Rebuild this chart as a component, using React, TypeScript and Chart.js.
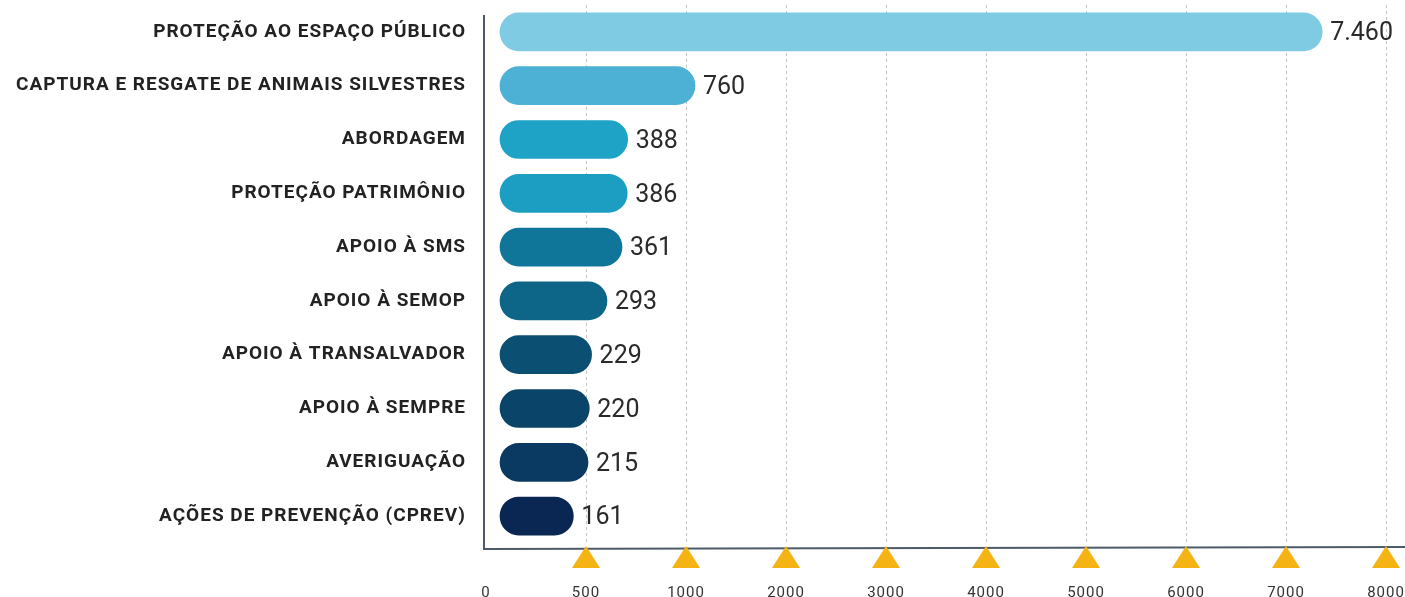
import React, { useEffect, useRef } from 'react';
import { Chart, registerables, LinearScale } from 'chart.js';

const CATEGORIES = [
  'PROTEÇÃO AO ESPAÇO PÚBLICO',
  'CAPTURA E RESGATE DE ANIMAIS SILVESTRES',
  'ABORDAGEM',
  'PROTEÇÃO PATRIMÔNIO',
  'APOIO À SMS',
  'APOIO À SEMOP',
  'APOIO À TRANSALVADOR',
  'APOIO À SEMPRE',
  'AVERIGUAÇÃO',
  'AÇÕES DE PREVENÇÃO (CPREV)',
];
const VALUES = [7460, 760, 388, 386, 361, 293, 229, 220, 215, 161];
const BAR_COLORS = [
  '#80cbe4', '#4cb1d4', '#1ea3c6', '#1c9ec2', '#0f7699',
  '#0d6688', '#0b5073', '#0a4468', '#0a3a62', '#0a2753',
];
const TICK_LABELS = ['0', '500', '1000', '2000', '3000', '4000', '5000', '6000', '7000', '8000'];

class PowerScale extends LinearScale {
  static id = 'power';
  static defaults = { ...(LinearScale as any).defaults };
  getPixelForValue(value: number) {
    const o: any = this.options;
    const pad = o.startPad ?? 0;
    const exp = o.exponent ?? 1;
    const range = (this.max - this.min) || 1;
    const frac = Math.pow(Math.max(0, value - this.min) / range, exp);
    return this.left + pad + (this.width - pad) * frac;
  }
  getValueForPixel(pixel: number) {
    const o: any = this.options;
    const pad = o.startPad ?? 0;
    const exp = o.exponent ?? 1;
    const frac = Math.max(0, (pixel - this.left - pad) / (this.width - pad));
    return this.min + Math.pow(frac, 1 / exp) * (this.max - this.min);
  }
}

Chart.register(...registerables, PowerScale as any);

const fmt = (v: number) => String(v).replace(/\B(?=(\d{3})+(?!\d))/g, '.');

const noPad = (s: any) => {
  s.paddingLeft = 0;
  s.paddingRight = 0;
  s.paddingTop = 0;
  s.paddingBottom = 0;
};

const decorPlugin = {
  id: 'decor',
  beforeDraw(chart: any) {
    chart.ctx.letterSpacing = '1px';
  },
  beforeDatasetsDraw(chart: any) {
    chart.ctx.letterSpacing = '0px';
  },
  afterDatasetsDraw(chart: any) {
    const ctx = chart.ctx;
    const meta = chart.getDatasetMeta(0);
    ctx.save();
    ctx.font = '25px Roboto';
    ctx.fillStyle = '#2a2a2a';
    ctx.textAlign = 'left';
    ctx.textBaseline = 'middle';
    meta.data.forEach((bar: any, i: number) => {
      ctx.fillText(fmt(VALUES[i]), bar.x + 8, bar.y + 2);
    });
    ctx.restore();
  },
  afterDraw(chart: any) {
    const ctx = chart.ctx;
    const area = chart.chartArea;
    const x2 = chart.scales.x2;
    const axisY = area.bottom + 6;
    ctx.save();
    ctx.strokeStyle = '#4d5b68';
    ctx.lineWidth = 2;
    ctx.beginPath();
    ctx.moveTo(area.left - 2, area.top + 10);
    ctx.lineTo(area.left - 2, axisY + 1);
    ctx.moveTo(area.left - 2, axisY);
    ctx.lineTo(chart.width, axisY - 2);
    ctx.stroke();
    ctx.fillStyle = '#f5b314';
    for (let i = 1; i < TICK_LABELS.length; i++) {
      const x = x2.getPixelForTick(i);
      ctx.beginPath();
      ctx.moveTo(x, axisY - 3);
      ctx.lineTo(x + 14, axisY + 19);
      ctx.lineTo(x - 14, axisY + 19);
      ctx.closePath();
      ctx.fill();
    }
    ctx.restore();
  },
};

export default function App() {
  const ref = useRef<HTMLCanvasElement>(null);
  useEffect(() => {
    if (!ref.current) return;
    const chart = new Chart(ref.current, {
      type: 'bar',
      data: {
        labels: CATEGORIES,
        datasets: [
          {
            data: VALUES,
            backgroundColor: BAR_COLORS,
            borderRadius: 19,
            borderSkipped: false,
            barThickness: 38,
            xAxisID: 'x',
            yAxisID: 'y',
          },
        ],
      },
      options: {
        indexAxis: 'y',
        animation: false,
        responsive: false,
        maintainAspectRatio: false,
        layout: { padding: { top: 5, right: 19, left: 0, bottom: 0 } },
        plugins: { legend: { display: false }, tooltip: { enabled: false } },
        scales: {
          x: {
            type: 'power' as any,
            display: false,
            min: 0,
            max: 8400,
            exponent: 0.63,
            startPad: 14,
          } as any,
          x2: {
            type: 'category',
            position: 'bottom',
            labels: TICK_LABELS,
            offset: false,
            grid: {
              display: true,
              drawTicks: false,
              offset: false,
              color: (c: any) => (c.index === 0 ? 'rgba(0,0,0,0)' : '#c4c4c4'),
              lineWidth: 1,
            },
            border: { display: false, dash: [3, 3] },
            ticks: {
              color: '#333',
              font: { family: 'Roboto', size: 15 },
              padding: 41,
              maxRotation: 0,
              autoSkip: false,
            },
            afterFit: (s: any) => { s.height = 54; noPad(s); },
          } as any,
          y: {
            type: 'category',
            offset: true,
            grid: { display: false, drawTicks: false },
            border: { display: false },
            ticks: {
              color: '#222',
              font: { family: 'Roboto', weight: 'bold', size: 19 },
              padding: 20,
              autoSkip: false,
            },
            afterFit: (s: any) => { s.width = 486; noPad(s); },
          },
        },
      },
      plugins: [decorPlugin],
    });
    return () => chart.destroy();
  }, []);
  return (
    <div style={{ position: 'absolute', left: 0, top: 0, width: 1405, height: 597, background: '#fff' }}>
      <canvas ref={ref} width={1405} height={597} style={{ display: 'block' }} />
    </div>
  );
}
